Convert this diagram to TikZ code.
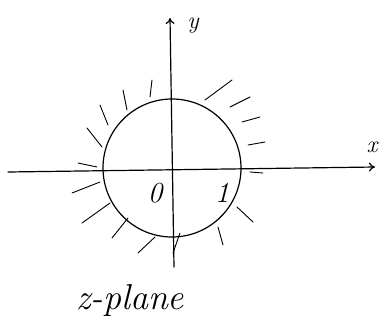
\documentclass[tikz,border=0pt]{standalone}
\usetikzlibrary{arrows.meta}
\begin{document}
\begin{tikzpicture}[x=1pt,y=-1pt,
  pen/.style={line width=1.2pt,line cap=round,black},
  hatch/.style={line width=0.9pt,line cap=round,black},
  axis/.style={pen,-{To[length=6pt,width=9pt]}},
  lbl/.style={font=\fontsize{24}{26}\selectfont\itshape,inner sep=0pt},
  digit/.style={font=\fontsize{29}{31}\selectfont\itshape,inner sep=0pt}]
\useasboundingbox (0,0) rectangle (382,334);
% coordinates
\coordinate (xl) at (8,172);
\coordinate (xr) at (375,167);
\coordinate (yb) at (174,267);
\coordinate (yt) at (170,18);
\coordinate (o) at (172,168);
% circle
\node[pen,draw,circle,minimum size=138pt,inner sep=0pt] (c) at (o) {};
% axes
\draw[axis] (xl) -- (xr);
\draw[axis] (yb) -- (yt);
% labels
\node[lbl] (xlab) at (372,147) {x};
\node[lbl] (ylab) at (193,26) {y};
\node[digit] (zero) at (155,193) {0};
\node[digit] (one) at (222,193) {1};
\node[font=\fontsize{36}{40}\selectfont\itshape,inner sep=0pt] (title) at (130,300) {z-plane};
% hatching outside the circle
\foreach \a/\b/\c/\d in {
  152/80/150/97, 123/90/127/110, 100/105/108/125, 87/128/102/147,
  78/163/97/167, 72/193/100/182, 82/223/110/203, 112/238/128/218,
  138/253/155/237, 180/233/173/253, 218/227/223/245, 237/207/253/222,
  250/172/263/173, 248/145/265/142, 242/122/260/117, 230/107/250/97,
  205/100/232/80}
  \draw[hatch] (\a,\b) -- (\c,\d);
\end{tikzpicture}
\end{document}
